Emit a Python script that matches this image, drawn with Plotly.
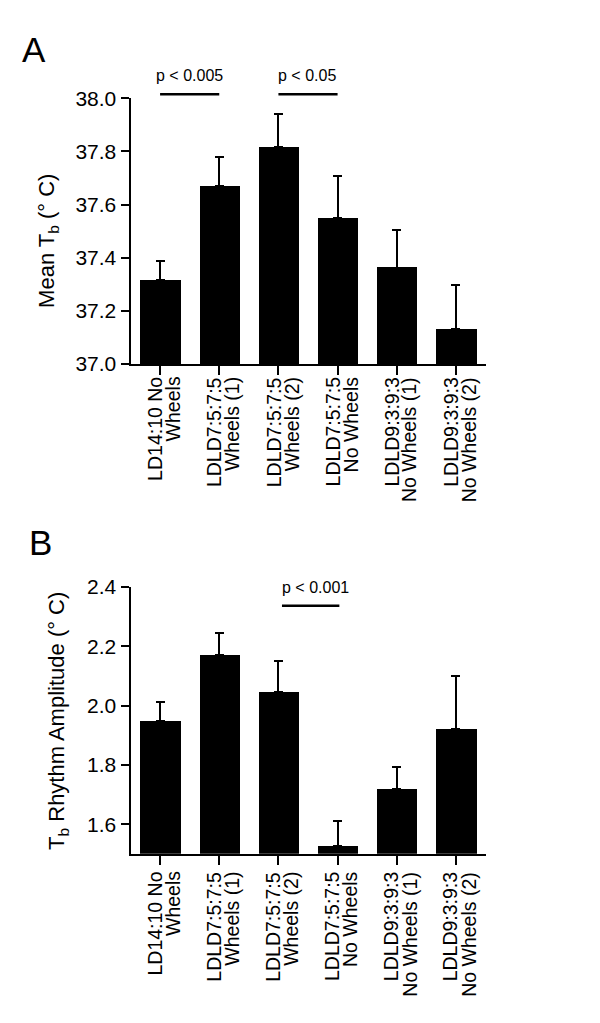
import plotly.graph_objects as go

label_line1 = ["LD14:10 No", "LDLD7:5:7:5", "LDLD7:5:7:5", "LDLD7:5:7:5", "LDLD9:3:9:3", "LDLD9:3:9:3"]
label_line2 = ["Wheels", "Wheels (1)", "Wheels (2)", "No Wheels", "No Wheels (1)", "No Wheels (2)"]
x_idx = list(range(len(label_line1)))

mean_tb = [37.316, 37.669, 37.815, 37.550, 37.363, 37.133]
mean_tb_err = [0.071, 0.109, 0.124, 0.158, 0.143, 0.164]

amp_tb = [1.947, 2.171, 2.046, 1.525, 1.720, 1.921]
amp_tb_err = [0.066, 0.073, 0.103, 0.087, 0.073, 0.179]

yticks_a = [37.0, 37.2, 37.4, 37.6, 37.8, 38.0]
yticks_b = [1.6, 1.8, 2.0, 2.2, 2.4]

# significance brackets: (from index, to index, label)
sig_a = [(0, 1, "p < 0.005"), (2, 3, "p < 0.05")]
sig_b = [(2.06, 3.03, "p < 0.001")]

FONT = "Liberation Sans, Arial, Helvetica, sans-serif"
W, H = 600, 1023

fig = go.Figure()
for vals, errs, xa, ya in [(mean_tb, mean_tb_err, "x", "y"), (amp_tb, amp_tb_err, "x2", "y2")]:
    fig.add_trace(go.Bar(x=x_idx, y=vals, width=0.68,
                         marker=dict(color="black", line=dict(width=0)),
                         error_y=dict(type="data", array=errs, arrayminus=[0]*len(errs), symmetric=False,
                                      color="black", thickness=2, width=4.5),
                         xaxis=xa, yaxis=ya, showlegend=False))

xdom = [122.5/W, 477.5/W]
ydom_a = [1-352/H, 1-80/H]
ydom_b = [1-853/H, 1-580/H]

xcommon = dict(domain=xdom, range=[-0.5, 5.5], tickmode="array", tickvals=x_idx, showticklabels=False,
               ticks="outside", ticklen=9, tickwidth=2, tickcolor="black",
               showline=True, linecolor="black", linewidth=2, showgrid=False, zeroline=False)
ycommon = dict(ticks="outside", ticklen=8, tickwidth=2, tickcolor="black", showline=True,
               linecolor="black", linewidth=2, showgrid=False, zeroline=False, tickformat=".1f",
               tickfont=dict(family=FONT, size=21, color="black"))

fig.update_layout(
    width=W, height=H, margin=dict(l=0, r=0, t=0, b=0),
    paper_bgcolor="white", plot_bgcolor="white", bargap=0,
    xaxis=dict(anchor="y", **xcommon),
    yaxis=dict(domain=ydom_a, anchor="x", range=[37.0, 38.0], tickvals=yticks_a, **ycommon),
    xaxis2=dict(anchor="y2", **xcommon),
    yaxis2=dict(domain=ydom_b, anchor="x2", range=[1.5, 2.4], tickvals=yticks_b, **ycommon),
)

shapes = []
annotations = []
pfont = dict(family=FONT, size=16, color="black")
for x0, x1, lab in sig_a:
    shapes.append(dict(type="line", xref="x", yref="y domain", x0=x0, x1=x1, y0=1.0147, y1=1.0147,
                       line=dict(color="black", width=2.5)))
    annotations.append(dict(xref="x", yref="y domain", x=x0 - (0.11 if x0 == 0 else 0.04), y=1.085,
                            xanchor="left", yanchor="middle", text=lab, showarrow=False, font=pfont))
for x0, x1, lab in sig_b:
    shapes.append(dict(type="line", xref="x2", yref="y2", x0=x0, x1=x1, y0=2.337, y1=2.337,
                       line=dict(color="black", width=2.5)))
    annotations.append(dict(xref="x2", yref="y2", x=x0 - 0.04, y=2.398, xanchor="left", yanchor="middle",
                            text=lab, showarrow=False, font=pfont))

# category labels (two lines each, rotated, right-aligned toward the axis)
cfont = dict(family=FONT, size=19.5, color="black")
for xa, top_px in [("x", 364), ("x2", 870)]:
    for i in x_idx:
        for txt, shift in [(label_line1[i], -5), (label_line2[i], 13)]:
            annotations.append(dict(xref=xa, yref="paper", x=i, y=1-top_px/H, xshift=shift,
                                    text=txt, textangle=-90, showarrow=False, xanchor="center",
                                    yanchor="top", borderpad=0, font=cfont))

annotations += [
    dict(xref="paper", yref="paper", x=40/W, y=1-226/H, text="Mean T<sub>b</sub> (° C)",
         textangle=-90, showarrow=False, xanchor="center", yanchor="middle",
         font=dict(family=FONT, size=22, color="black")),
    dict(xref="paper", yref="paper", x=50/W, y=1-717/H, text="T<sub>b</sub> Rhythm Amplitude (° C)",
         textangle=-90, showarrow=False, xanchor="center", yanchor="middle",
         font=dict(family=FONT, size=22, color="black")),
    dict(xref="paper", yref="paper", x=26/W, y=1-30/H, text="A", showarrow=False,
         xanchor="center", yanchor="middle", font=dict(family=FONT, size=35, color="black")),
    dict(xref="paper", yref="paper", x=32/W, y=1-535/H, text="B", showarrow=False,
         xanchor="center", yanchor="middle", font=dict(family=FONT, size=35, color="black")),
]
fig.update_layout(shapes=shapes, annotations=annotations)

fig.write_html("out.html")
